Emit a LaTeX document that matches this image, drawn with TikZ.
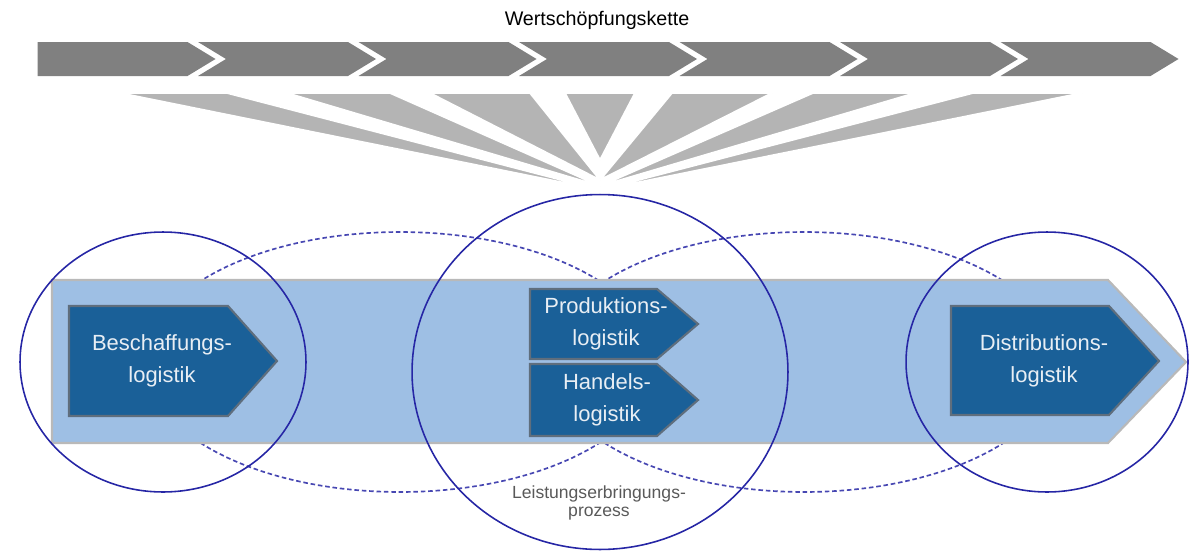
\documentclass[tikz,border=0pt]{standalone}
\usepackage{fontspec}
\setmainfont{Liberation Sans}
\usetikzlibrary{shapes.geometric}
\definecolor{chaingray}{RGB}{128,128,128}
\definecolor{fangray}{RGB}{180,180,180}
\definecolor{barblue}{RGB}{158,191,228}
\definecolor{barrand}{RGB}{185,185,185}
\definecolor{boxblue}{RGB}{26,96,152}
\definecolor{boxrand}{RGB}{95,110,125}
\definecolor{ringblue}{RGB}{38,38,165}
\definecolor{boxtext}{RGB}{232,238,244}

\tikzset{
  boxfill/.style={fill=boxblue,draw=boxrand,line width=1.2pt},
  boxlabel/.style={text=boxtext,align=center,inner sep=0pt,font=\fontsize{12.5}{18}\selectfont},
  ring/.style={draw=ringblue,line width=0.9pt,ellipse,inner sep=0pt},
  dashring/.style={draw=ringblue!85,line width=0.95pt,dash pattern=on 2.6pt off 1.6pt,ellipse,inner sep=0pt}
}

\begin{document}
\begin{tikzpicture}[x=0.02cm, y=-0.02cm]
    \useasboundingbox (0,0) rectangle (1189,551);

    % fan below the chain
    \foreach \a/\b/\t in {120/227/190, 287/390/186, 430/530/180, 565/635/160, 672/772/180, 813/915/186, 973/1082/190}
        \filldraw[fill=fangray,draw=white,line width=1pt] (\a,93) -- (\b,93) -- (600,\t) -- cycle;

    % chain segments
    \foreach \i [evaluate=\i as \bx using 37.5+160.5*\i, evaluate=\i as \nd using (\i>0)*28] in {0,...,6}
        \fill[chaingray] (\bx,42) -- ++(150,0) -- ++(28,17) -- ++(-28,17) -- ++(-150,0) -- ++(\nd,-17) -- cycle;

    \node (kette) at (597,20) {\fontsize{11.2}{13}\selectfont Wertschöpfungskette};

    \node[dashring,minimum width=10.2cm,minimum height=5.2cm] (linksoval) at (400,362) {};
    \node[dashring,minimum width=10.2cm,minimum height=5.2cm] (rechtsoval) at (804,362) {};

    % big arrow
    \filldraw[fill=barblue,draw=barrand,line width=1.2pt] (52,280) -- (1108,280) -- (1186,362) -- (1108,443) -- (52,443) -- cycle;

    \filldraw[boxfill] (69,306) -- (228,306) -- (277,361) -- (228,416) -- (69,416) -- cycle;
    \filldraw[boxfill] (530,289) -- (657,289) -- (698,324) -- (657,359) -- (530,359) -- cycle;
    \filldraw[boxfill] (530,364) -- (657,364) -- (698,400) -- (657,436) -- (530,436) -- cycle;
    \filldraw[boxfill] (951,306) -- (1109,306) -- (1159,361) -- (1109,415) -- (951,415) -- cycle;

    \node[boxlabel] (beschaffung) at (162,361) {Beschaffungs-\\logistik};
    \node[boxlabel] (produktion) at (606,324) {Produktions-\\logistik};
    \node[boxlabel] (handel) at (607,400) {Handels-\\logistik};
    \node[boxlabel] (distribution) at (1044,361) {Distributions-\\logistik};

    \node[text=black!65,align=center,inner sep=0pt,font=\fontsize{10}{10.4}\selectfont] (prozess) at (599,503) {Leistungserbringungs-\\prozess};

    \node[ring,minimum width=5.72cm,minimum height=5.2cm] (beschring) at (163,362) {};
    \node[ring,minimum width=7.52cm,minimum height=7.1cm] (mittering) at (600,372) {};
    \node[ring,minimum width=5.64cm,minimum height=5.2cm] (distring) at (1047,362) {};
\end{tikzpicture}
\end{document}
